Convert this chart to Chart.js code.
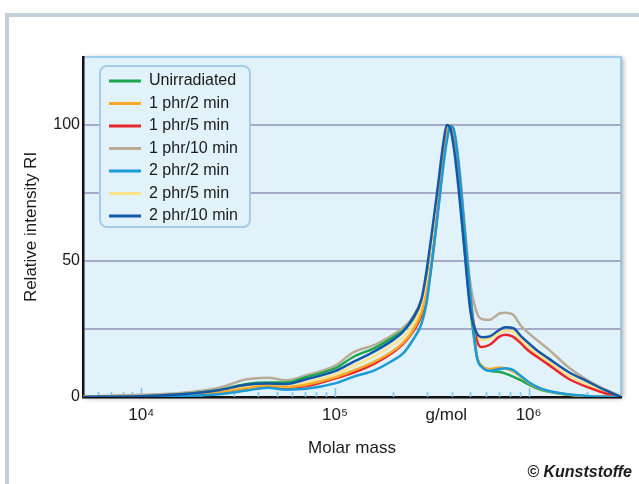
<!DOCTYPE html>
<html>
<head>
<meta charset="utf-8">
<script src="https://cdn.jsdelivr.net/npm/chart.js@4.4.1/dist/chart.umd.min.js"></script>
<style>
  html, body { margin: 0; padding: 0; background: #fff; }
  #wrap { position: relative; width: 639px; height: 484px; overflow: hidden; }
  #frame { position: absolute; left: 5px; top: 13px; width: 660px; height: 500px;
           border-top: 4px solid #c2d0d9; border-left: 4px solid #c2d0d9; }
  canvas { position: absolute; left: 0; top: 0; }
</style>
</head>
<body>
<div id="wrap">
  <div id="frame"></div>
  <canvas id="grafica" width="639" height="484"></canvas>
</div>
<script>
const molarMass = [5000, 10000, 16000, 25000, 35000, 45000, 56000, 71000, 100000, 125000,
  160000, 200000, 225000, 250000, 280000, 298000, 316000, 338000, 363000, 378000, 395000,
  414000, 440000, 465000, 500000, 540000, 575000, 630000, 710000, 760000, 830000,
  910000, 1000000, 1120000, 1260000, 1600000, 2000000, 2500000, 3000000];

const unirradiated = [0, 0.3, 1.0, 2.5, 4.8, 5.3, 5.3, 7.3, 10.5, 14.8,
  18, 22, 24.5, 28, 35, 43, 52, 70, 89, 97.5, 100,
  93, 76, 56, 33, 15, 11, 9.6, 9.2, 8.6, 7.5,
  6.2, 4.6, 3.0, 2.0, 0.8, 0.3, 0.1, 0];

const phr1min2 = [0, 0.1, 0.6, 1.7, 3.2, 4.2, 3.6, 4.5, 7.2, 9.8,
  13, 17, 20, 24, 31, 38.5, 49, 67, 87, 96, 99.8,
  96.5, 81, 62, 38, 15.5, 11.5, 10.3, 10.8, 10.5, 9.5,
  7.5, 5.3, 3.4, 2.2, 0.9, 0.3, 0.1, 0];

const phr1min5 = [0, 0.1, 0.5, 1.5, 2.8, 3.8, 3.3, 4.0, 6.8, 9.0,
  12.3, 16.5, 19.5, 23.5, 30, 38, 49, 67, 87, 96, 99.8,
  96, 81, 62, 37, 21, 18.4, 19.2, 22.3, 22.9, 22.2,
  19.8, 17, 14.5, 12, 6.8, 3.7, 1.3, 0];

const phr1min10 = [0.2, 0.8, 1.5, 3.3, 6.5, 7.1, 6.2, 8.0, 11.5, 16.5,
  19.2, 23, 25.5, 29, 36, 44, 52, 68, 87, 95.5, 99.7,
  97, 84, 65, 42, 31, 28.6, 28.4, 30.8, 31, 30.3,
  26.3, 23.5, 20.6, 17.7, 11, 6.3, 2.7, 0.3];

const phr2min2 = [0, 0, 0.3, 1.0, 2.4, 3.4, 2.7, 3.0, 5.0, 7.5,
  9.8, 13.5, 16, 20.5, 27, 35, 49, 66, 85, 94, 99.7,
  97.5, 82, 63, 38, 15, 11, 9.6, 10.3, 10.6, 10,
  7.8, 5.5, 3.5, 2.3, 1.0, 0.4, 0.1, 0];

const phr2min5 = [0, 0.2, 0.8, 2.0, 3.8, 4.5, 4.0, 5.3, 8.3, 11.5,
  15, 19.3, 22, 26, 33, 41, 52, 71, 90, 98, 100,
  94, 77, 58, 34, 22.5, 21, 21.3, 23.7, 24.4, 24,
  21.2, 18.3, 15.5, 13, 8, 4.7, 1.8, 0];

const phr2min10 = [0, 0.3, 1.0, 2.5, 4.5, 5.0, 4.8, 6.5, 9.5, 13,
  16.8, 21, 24, 28.5, 36, 47, 60, 76, 93.5, 100, 98.5,
  90, 73, 55, 32, 23.5, 22, 22.3, 24.8, 25.6, 25.4,
  22.5, 19.8, 16.8, 14.3, 9.3, 5.8, 2.4, 0];

const seriesNames = ['Unirradiated', '1 phr/2 min', '1 phr/5 min', '1 phr/10 min',
  '2 phr/2 min', '2 phr/5 min', '2 phr/10 min'];
const seriesValues = [unirradiated, phr1min2, phr1min5, phr1min10, phr2min2, phr2min5, phr2min10];
const seriesColors = ['#1ba64f', '#f7a928', '#e8262c', '#b8ac95', '#1b9ad8', '#fde28c', '#1457a8'];
const seriesOrder = [6, 3, 4, 7, 2, 5, 1];

const xTickValues = [10000, 100000, 376000, 1000000];
const xTickLabels = ['10⁴', '10⁵', 'g/mol', '10⁶'];
const xMinorTicks = [6000, 7000, 8000, 9000, 20000, 30000, 40000, 50000, 60000, 70000, 80000, 90000,
  200000, 300000, 400000, 500000, 600000, 700000, 800000, 900000, 2000000];
const xMajorTicks = [10000, 100000, 1000000];
const yTickValues = [0, 25, 50, 75, 100];
const yTickLabels = ['0', '', '50', '', '100'];

const fontFamily = "'Liberation Sans', Arial, sans-serif";
const textColor = '#1a1a1a';

document.addEventListener('DOMContentLoaded', () => {

    const ctx = document.getElementById('grafica').getContext('2d');

    const plotFrame = {
        id: 'plotFrame',
        beforeDraw(chart) {
            const { ctx, chartArea: a } = chart;
            ctx.save();
            ctx.shadowColor = 'rgba(50,50,50,0.45)';
            ctx.shadowBlur = 5;
            ctx.shadowOffsetX = 2;
            ctx.shadowOffsetY = 1;
            ctx.fillStyle = '#e1f2fb';
            ctx.fillRect(a.left, a.top, a.right - a.left, a.bottom - a.top);
            ctx.restore();
            ctx.save();
            ctx.strokeStyle = '#86c3ea';
            ctx.lineWidth = 1.5;
            ctx.beginPath();
            ctx.moveTo(a.left, a.top);
            ctx.lineTo(a.right, a.top);
            ctx.lineTo(a.right, a.bottom);
            ctx.stroke();
            ctx.restore();
        },
        beforeDatasetsDraw(chart) {
            const { ctx, chartArea: a, scales } = chart;
            ctx.save();
            ctx.strokeStyle = '#7fc4ee';
            ctx.lineWidth = 1.5;
            const marks = xMinorTicks.map(v => [v, 5]).concat(xMajorTicks.map(v => [v, 9]));
            for (const [v, len] of marks) {
                const px = Math.round(scales.x.getPixelForValue(v)) + 0.5;
                ctx.beginPath();
                ctx.moveTo(px, a.bottom);
                ctx.lineTo(px, a.bottom - len);
                ctx.stroke();
            }
            ctx.restore();
        },
        afterDraw(chart) {
            const { ctx } = chart;
            // legend box
            const bx = 100, by = 66, bw = 150, bh = 161;
            ctx.save();
            ctx.fillStyle = '#e1f2fb';
            ctx.strokeStyle = '#a6cbe8';
            ctx.lineWidth = 2;
            ctx.beginPath();
            ctx.roundRect(bx, by, bw, bh, 7);
            ctx.fill();
            ctx.stroke();
            ctx.font = '16px ' + fontFamily;
            ctx.textBaseline = 'middle';
            ctx.fillStyle = textColor;
            chart.data.datasets.forEach((ds, i) => {
                const y = 81 + i * 22.5;
                ctx.strokeStyle = ds.borderColor;
                ctx.lineWidth = 3;
                ctx.beginPath();
                ctx.moveTo(109, y);
                ctx.lineTo(141, y);
                ctx.stroke();
                ctx.fillText(ds.label, 149, y);
            });
            // copyright
            ctx.font = 'italic bold 16px ' + fontFamily;
            ctx.textAlign = 'right';
            ctx.textBaseline = 'alphabetic';
            ctx.fillText('© Kunststoffe', 632, 477);
            ctx.restore();
        }
    };

    const datasets = seriesNames.map((name, i) => ({
        label: name,
        data: molarMass.map((m, j) => ({ x: m, y: seriesValues[i][j] })),
        borderColor: seriesColors[i],
        borderWidth: 2.5,
        pointRadius: 0,
        fill: false,
        cubicInterpolationMode: 'monotone',
        order: seriesOrder[i]
    }));

    new Chart(ctx, {
        type: 'line',
        data: { datasets: datasets },
        plugins: [plotFrame],
        options: {
            responsive: false,
            animation: false,
            layout: { padding: { left: 0, top: 57, right: 18, bottom: 0 } },
            plugins: {
                legend: { display: false },
                tooltip: { enabled: false }
            },
            scales: {
                x: {
                    type: 'logarithmic',
                    min: 5000,
                    max: 3000000,
                    afterBuildTicks: s => { s.ticks = xTickValues.map(v => ({ value: v })); },
                    afterFit: s => { s.height = 87; s.paddingLeft = 0; s.paddingRight = 0; },
                    ticks: {
                        callback: v => xTickLabels[xTickValues.indexOf(v)],
                        autoSkip: false,
                        maxRotation: 0,
                        padding: 0,
                        color: textColor,
                        font: { family: fontFamily, size: 17 }
                    },
                    grid: { display: false },
                    border: { display: true, color: '#111', width: 2.5 },
                    title: {
                        display: true,
                        text: 'Molar mass',
                        color: textColor,
                        font: { family: fontFamily, size: 17 },
                        padding: { top: 0, bottom: 25 }
                    }
                },
                y: {
                    min: 0,
                    max: 125,
                    afterBuildTicks: s => { s.ticks = yTickValues.map(v => ({ value: v })); },
                    afterFit: s => { s.width = 83; s.paddingTop = 0; s.paddingBottom = 0; },
                    ticks: {
                        callback: v => yTickLabels[yTickValues.indexOf(v)],
                        padding: 3,
                        color: textColor,
                        font: { family: fontFamily, size: 16 }
                    },
                    grid: {
                        color: c => (c.tick && c.tick.value === 0) ? 'rgba(0,0,0,0)' : '#a4a9c9',
                        lineWidth: 2,
                        drawTicks: false
                    },
                    border: { display: true, color: '#111', width: 2.5 },
                    title: {
                        display: true,
                        text: 'Relative intensity RI',
                        color: textColor,
                        font: { family: fontFamily, size: 17 },
                        padding: { top: 21, bottom: 0 }
                    }
                }
            }
        }
    });
});
</script>
</body>
</html>
